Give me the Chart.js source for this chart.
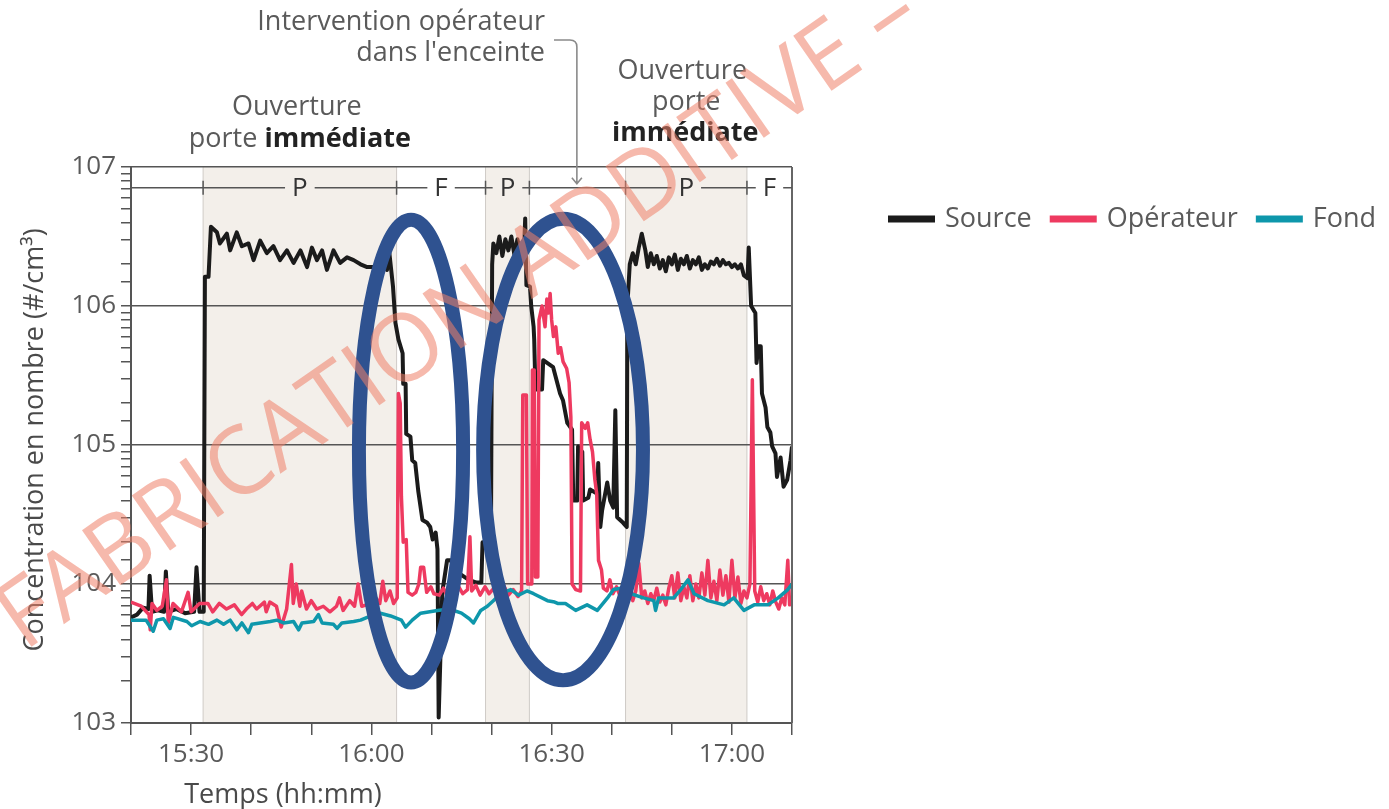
<!DOCTYPE html>
<html>
<head>
<meta charset="utf-8">
<script src="https://cdn.jsdelivr.net/npm/chart.js@4.4.0/dist/chart.umd.min.js"></script>
<style>
  html, body { margin: 0; padding: 0; background: #fff; }
</style>
</head>
<body>
<canvas id="concChart" width="1389" height="809"></canvas>
<script>
// x values are minutes after 15:20, y values are log10 of the concentration (#/cm3)
const startMinute = 15 * 60 + 20
const labelledTimes = ["15:30", "16:00", "16:30", "17:00"]
const decadeLabels = ["103", "104", "105", "106", "107"]

const sourceTimes = [0, 1, 2, 2.9, 3.1, 3.5, 4.5, 5.5, 5.8, 6.2, 7.5, 9, 10.5, 10.9, 11.4, 12.1,
  12.3, 12.9, 13.3, 14.3, 14.8, 15.95, 16.5, 17.6, 18.45, 19.55, 20.4, 21.5, 22.6, 23.7, 24.8, 25.95,
  27.05, 28.2, 29.3, 30.1, 30.95, 31.8, 32.6, 33.7, 34.8, 35.95, 37.05, 38.2, 39.3, 40.4, 41.2, 42.05,
  42.6, 43.0, 43.6, 44.0, 44.5, 45.2, 45.3, 45.7, 45.8, 46.5, 46.8, 47.3, 47.8, 48.5, 49.3, 49.8,
  50.2, 50.7, 51.0, 51.2, 51.8, 52.6, 53.2, 54.5, 56.2, 57.5, 58.3, 58.5, 59.9,
  60.1, 60.3, 60.8, 61.3, 61.8, 62.3, 62.8, 63.3, 63.8, 64.3, 64.8, 65.4, 65.6, 65.8,
  66.4, 66.6, 67.0, 67.1, 67.3, 68.4, 68.6, 70.25, 71.4, 71.9, 72.6, 73.4, 73.6, 74.25, 74.4, 75.1,
  75.25, 76.1, 76.4, 77.6, 77.75, 78.1, 78.4, 79.25, 79.75, 80.25, 80.6, 80.9, 81.9, 82.5,
  82.6, 83.0, 83.5, 84.0, 84.5, 85.0, 85.6, 86.0, 86.5, 87.0, 87.5, 88.0, 88.5, 89.0, 89.5, 90.0,
  90.5, 91.0, 91.5, 92.0, 92.5, 93.0, 93.5, 94.0, 94.5, 95.0, 95.5, 96.0, 96.5, 97.0, 97.5, 98.0,
  98.5, 99.0, 99.5, 100.0, 100.5, 101.0, 101.5, 102.0, 102.6, 102.8, 103.2, 103.9, 104.1, 104.4,
  104.8, 105.0, 105.6, 105.9, 106.4, 106.7, 107.25, 107.5, 108.1, 108.6, 109.2, 109.75, 110]
const sourceExp = [3.76, 3.78, 3.83, 3.82, 4.06, 3.80, 3.81, 3.80, 4.09, 3.80, 3.82, 3.79, 3.80, 4.12, 3.80, 3.80,
  6.21, 6.21, 6.57, 6.53, 6.45, 6.52, 6.40, 6.53, 6.43, 6.45, 6.33, 6.47, 6.38, 6.43, 6.33, 6.40,
  6.31, 6.40, 6.28, 6.42, 6.33, 6.40, 6.26, 6.40, 6.31, 6.35, 6.33, 6.30, 6.28, 6.28, 6.30, 6.31,
  6.26, 6.38, 6.14, 5.88, 5.76, 5.66, 5.44, 5.44, 5.08, 5.06, 4.89, 4.87, 4.67, 4.46, 4.44, 4.41,
  4.32, 4.37, 4.25, 3.04, 3.94, 4.17, 4.17, 4.08, 4.03, 4.01, 4.01, 4.30, 4.30,
  6.30, 6.45, 6.38, 6.50, 6.36, 6.48, 6.40, 6.50, 6.37, 6.48, 6.38, 6.40, 6.63, 6.15,
  6.14, 6.00, 5.85, 5.76, 5.40, 5.40, 5.61, 5.56, 5.37, 5.32, 5.16, 5.11, 4.60, 4.60, 4.99, 4.95,
  4.60, 4.62, 4.68, 4.65, 4.87, 4.41, 4.53, 4.73, 4.60, 4.55, 5.25, 4.48, 4.44, 4.41,
  6.00, 6.30, 6.38, 6.30, 6.42, 6.52, 6.40, 6.28, 6.38, 6.30, 6.36, 6.27, 6.33, 6.25, 6.35, 6.30,
  6.37, 6.26, 6.34, 6.30, 6.36, 6.27, 6.33, 6.30, 6.35, 6.26, 6.30, 6.27, 6.32, 6.30, 6.34, 6.29,
  6.33, 6.30, 6.31, 6.28, 6.30, 6.27, 6.30, 6.22, 6.20, 6.42, 6.00, 5.95, 5.59, 5.71,
  5.71, 5.37, 5.27, 5.13, 5.09, 4.99, 4.94, 4.77, 4.91, 4.70, 4.75, 4.89, 4.99]

const operatorTimes = [0, 1.7, 3.0, 3.2, 3.5, 4.3, 5.2, 5.9, 6.2, 7.0, 8.4, 9.5, 10.0, 11.4, 12.8, 13.6,
  14.7, 15.9, 17.2, 18.4, 19.2, 20.2, 20.9, 22.2, 22.5, 23.1, 24.2, 25.0, 25.9, 26.7, 27.0, 27.5,
  28.1, 28.4, 29.2, 30.0, 30.9, 32.0, 33.1, 34.2, 34.7, 35.3, 36.4, 37.2, 37.8, 38.4, 39.2, 40.4,
  41.4, 41.9, 42.4, 43.1, 43.7, 44.3, 44.5, 44.8, 45.0, 45.3, 45.8, 46.1, 46.8, 47.4, 47.9, 48.2,
  48.7, 49.2, 49.9, 50.4, 51.3, 52.0, 52.8, 53.6, 54.4, 55.2, 56.0, 56.4, 56.7, 57.4, 58.1, 58.9,
  59.6, 60.4, 61.2, 62.0, 62.8, 63.6, 64.4, 65.0, 65.2, 65.8, 66.0, 66.7, 66.8, 67.1, 67.3, 67.7,
  67.9, 68.4, 68.9, 69.2, 69.5, 69.75, 70.0, 70.3, 70.7, 71.1, 71.5, 71.9, 72.5, 72.9, 73.2, 73.4,
  74.0, 74.8, 75.0, 75.6, 76.0, 76.4, 76.8, 77.2, 77.5, 77.8, 78.3, 78.6, 79.2, 79.7, 80.2, 80.8,
  81.5, 82.1, 82.5, 83.0, 83.5, 84.0, 84.5, 85.0, 85.5, 86.0, 86.5, 87.0, 87.5, 88.0, 88.5, 89.0,
  89.5, 90.0, 90.5, 91.0, 91.5, 92.0, 92.5, 93.0, 93.5, 94.0, 94.5, 95.0, 95.5, 96.0, 96.5, 97.0,
  97.5, 98.0, 98.5, 99.0, 99.5, 100.0, 100.5, 101.0, 101.5, 102.0, 102.5, 103.0, 103.4, 103.8, 104.3,
  104.8, 105.3, 105.8, 106.3, 106.8, 107.3, 107.8, 108.3, 108.8, 109.3, 109.6, 110]
const operatorExp = [3.87, 3.84, 3.78, 3.67, 3.86, 3.81, 3.84, 4.03, 3.72, 3.86, 3.80, 3.94, 3.80, 3.86, 3.86, 3.80,
  3.86, 3.82, 3.85, 3.78, 3.82, 3.86, 3.82, 3.87, 3.80, 3.87, 3.84, 3.69, 3.82, 4.14, 3.86, 4.00,
  3.84, 3.95, 3.82, 3.88, 3.82, 3.84, 3.80, 3.84, 3.90, 3.81, 3.88, 3.84, 4.00, 3.84, 3.85, 3.92,
  3.86, 4.02, 3.88, 3.95, 3.86, 3.90, 5.37, 5.30, 4.63, 4.30, 4.32, 3.94, 3.92, 3.94, 4.00, 4.12,
  4.12, 3.94, 3.98, 3.93, 3.92, 3.97, 3.90, 3.95, 3.99, 3.93, 3.96, 4.34, 3.95, 3.99, 3.92, 3.98,
  3.93, 3.97, 3.90, 3.99, 3.92, 3.96, 3.91, 3.95, 5.36, 5.36, 4.00, 4.00, 5.54, 5.54, 4.05, 4.05,
  5.90, 6.00, 5.85, 6.05, 5.95, 6.09, 5.90, 5.78, 5.85, 5.66, 5.70, 5.60, 5.55, 5.45, 5.20, 4.00,
  3.96, 3.95, 5.16, 5.12, 5.16, 5.04, 4.95, 4.75, 4.65, 4.17, 4.10, 3.97, 3.95, 4.03, 3.93, 3.98,
  3.90, 3.96, 3.92, 4.02, 3.88, 3.95, 4.15, 3.90, 3.95, 3.86, 3.93, 3.88, 3.97, 3.87, 3.92, 3.85,
  3.97, 4.06, 3.90, 4.08, 3.88, 3.98, 3.90, 4.06, 3.88, 4.00, 3.90, 4.08, 3.92, 4.17, 3.90, 4.02,
  3.88, 4.10, 3.92, 4.06, 3.87, 4.17, 3.90, 4.05, 3.86, 3.95, 3.90, 4.00, 5.47, 3.95, 3.87,
  3.98, 3.88, 3.93, 3.85, 3.95, 3.87, 3.82, 3.90, 3.85, 4.17, 3.85, 3.88]

const fondTimes = [0, 2.5, 3.7, 4.3, 5.4, 6.5, 7.05, 9.3, 10.1, 11.5, 12.9, 14.3, 15.4, 16.5, 17.6, 18.45,
  19.55, 20.1, 21.5, 23.2, 24.3, 25.4, 27.05, 27.9, 28.45, 30.4, 31.2, 31.8, 33.7, 34.3, 35.1, 37.05,
  38.2, 39.3, 41.5, 43.2, 45.0, 45.7, 46.8, 48.2, 51.0, 53.0, 55.0, 56.3, 57.0, 58.2, 59.3, 60.3,
  61.5, 63.2, 64.5, 65.9, 67.0, 69.3, 70.5, 71.0, 72.3, 74.0, 75.9, 77.6, 79.3, 80.3, 81.5, 83.2,
  85.3, 87.0, 87.3, 87.8, 90.3, 91.5, 92.7, 93.7, 96.0, 98.7, 100.3, 102.0, 103.7, 106.0, 107.7,
  109.3, 110]
const fondExp = [3.74, 3.74, 3.66, 3.74, 3.75, 3.68, 3.76, 3.73, 3.70, 3.73, 3.71, 3.74, 3.71, 3.74, 3.67, 3.72,
  3.65, 3.71, 3.72, 3.73, 3.74, 3.72, 3.73, 3.67, 3.72, 3.73, 3.78, 3.72, 3.71, 3.68, 3.72, 3.73,
  3.74, 3.76, 3.79, 3.77, 3.74, 3.69, 3.74, 3.79, 3.81, 3.82, 3.79, 3.75, 3.72, 3.81, 3.84, 3.88,
  3.93, 3.96, 3.92, 3.95, 3.93, 3.88, 3.87, 3.86, 3.86, 3.81, 3.85, 3.81, 3.90, 3.96, 3.97, 3.93,
  3.90, 3.88, 3.81, 3.90, 3.90, 3.96, 4.03, 3.93, 3.88, 3.85, 3.90, 3.81, 3.85, 3.85, 3.90,
  3.96, 4.00]

// door phases along the top bar
const phaseNames = ["", "P", "F", "P", "", "P", "F"]
const phaseStarts = [0, 12.0, 44.2, 59.0, 66.3, 82.3, 102.5]
const phaseEnds = [12.0, 44.2, 59.0, 66.3, 82.3, 102.5, 110]
const phaseBarExp = 6.85

// hand-drawn circles of the original figure (centre time, centre exponent, half widths)
const circleTimes = [46.6, 71.9]
const circleExps = [4.956, 4.967]
const circleHalfTimes = [8.67, 13.3]
const circleHalfExps = [1.665, 1.66]

const arrowTime = 74.2

const seriesNames = ["Source", "Opérateur", "Fond"]
const seriesColors = ["#1b1b1b", "#ee3a60", "#0e97ab"]

const FONT = "'Open Sans', 'Noto Sans', sans-serif"
const TEXT = "#5a5a5a"

function toPoints(times, exps) {
  return times.map((t, i) => ({ x: t, y: Math.pow(10, exps[i]) }))
}

function isDecade(v) {
  const e = Math.log10(v)
  return Math.abs(e - Math.round(e)) < 1e-9
}

const overlay = {
  id: "overlay",
  beforeDraw(chart) {
    const { ctx, chartArea: area, scales: { x } } = chart
    ctx.save()
    ctx.fillStyle = "#fff"
    ctx.fillRect(0, 0, chart.width, chart.height)
    phaseNames.forEach((name, i) => {
      if (name !== "P") return
      const x0 = x.getPixelForValue(phaseStarts[i])
      const x1 = x.getPixelForValue(phaseEnds[i])
      ctx.fillStyle = "#f3efea"
      ctx.fillRect(x0, area.top, x1 - x0, area.bottom - area.top)
      ctx.strokeStyle = "#cfcbc7"
      ctx.lineWidth = 1
      ctx.beginPath()
      ctx.moveTo(x0, area.top); ctx.lineTo(x0, area.bottom)
      ctx.moveTo(x1, area.top); ctx.lineTo(x1, area.bottom)
      ctx.stroke()
    })
    ctx.restore()
  },
  afterDraw(chart) {
    const { ctx, chartArea: area, scales: { x, y } } = chart
    ctx.save()

    // right border
    ctx.strokeStyle = "#666"
    ctx.lineWidth = 2
    ctx.beginPath()
    ctx.moveTo(area.right, area.top); ctx.lineTo(area.right, area.bottom)
    ctx.stroke()

    // phase bar
    const barY = y.getPixelForValue(Math.pow(10, phaseBarExp))
    ctx.font = "26px " + FONT
    ctx.textAlign = "center"
    ctx.textBaseline = "middle"
    const gaps = []
    phaseNames.forEach((name, i) => {
      if (!name) return
      const cx = x.getPixelForValue((phaseStarts[i] + phaseEnds[i]) / 2)
      const w = ctx.measureText(name).width
      gaps.push([cx - w / 2 - 7, cx + w / 2 + 7])
      ctx.fillStyle = "#333"
      ctx.fillText(name, cx, barY + 1)
    })
    ctx.strokeStyle = "#555"
    ctx.lineWidth = 1.5
    ctx.beginPath()
    let from = area.left
    gaps.forEach(([g0, g1]) => {
      ctx.moveTo(from, barY); ctx.lineTo(g0, barY)
      from = g1
    })
    ctx.moveTo(from, barY); ctx.lineTo(area.right, barY)
    phaseStarts.slice(1).forEach((t) => {
      const px = x.getPixelForValue(t)
      ctx.moveTo(px, barY - 7); ctx.lineTo(px, barY + 7)
    })
    ctx.stroke()

    // circles
    ctx.strokeStyle = "#2f5290"
    ctx.lineWidth = 14
    circleTimes.forEach((t, i) => {
      const cx = x.getPixelForValue(t)
      const cy = y.getPixelForValue(Math.pow(10, circleExps[i]))
      const rx = x.getPixelForValue(t + circleHalfTimes[i]) - cx
      const ry = cy - y.getPixelForValue(Math.pow(10, circleExps[i] + circleHalfExps[i]))
      ctx.beginPath()
      ctx.ellipse(cx, cy, rx, ry, 0, 0, Math.PI * 2)
      ctx.stroke()
    })

    // annotations above the plot
    ctx.fillStyle = TEXT
    ctx.font = "27px " + FONT
    ctx.textAlign = "right"
    ctx.textBaseline = "middle"
    ctx.fillText("Intervention opérateur", 545, 22)
    ctx.fillText("dans l'enceinte", 545, 53)

    const ax = x.getPixelForValue(arrowTime)
    ctx.strokeStyle = "#8a8a8a"
    ctx.lineWidth = 1.6
    ctx.beginPath()
    ctx.moveTo(554, 40)
    ctx.lineTo(ax - 7, 40)
    ctx.quadraticCurveTo(ax, 40, ax, 47)
    ctx.lineTo(ax, barY - 4)
    ctx.moveTo(ax - 5, barY - 10); ctx.lineTo(ax, barY - 4); ctx.lineTo(ax + 5, barY - 10)
    ctx.stroke()

    const leftCx = x.getPixelForValue((phaseStarts[1] + phaseEnds[1]) / 2)
    ctx.textAlign = "center"
    ctx.fillText("Ouverture", leftCx - 3, 107)
    const reg = "porte "
    const bold = "immédiate"
    ctx.font = "27px " + FONT
    const wReg = ctx.measureText(reg).width
    ctx.font = "bold 27px " + FONT
    const wBold = ctx.measureText(bold).width
    let sx = leftCx - (wReg + wBold) / 2
    ctx.textAlign = "left"
    ctx.font = "27px " + FONT
    ctx.fillStyle = TEXT
    ctx.fillText(reg, sx, 139)
    ctx.font = "bold 27px " + FONT
    ctx.fillStyle = "#222"
    ctx.fillText(bold, sx + wReg, 139)

    const rightCx = x.getPixelForValue((phaseStarts[5] + phaseEnds[5]) / 2)
    ctx.textAlign = "center"
    ctx.font = "27px " + FONT
    ctx.fillStyle = TEXT
    ctx.fillText("Ouverture", rightCx - 4, 71)
    ctx.fillText("porte", rightCx, 102)
    ctx.font = "bold 27px " + FONT
    ctx.fillStyle = "#222"
    ctx.fillText("immédiate", rightCx - 1, 133)

    // axis titles
    ctx.font = "27px " + FONT
    ctx.fillStyle = "#4a4a4a"
    ctx.textAlign = "center"
    ctx.fillText("Temps (hh:mm)", 283, 795)
    ctx.save()
    ctx.translate(35, 440)
    ctx.rotate(-Math.PI / 2)
    ctx.fillText("Concentration en nombre (#/cm³)", 0, 0)
    ctx.restore()

    // legend
    let lx = 888
    const ly = 219
    ctx.textAlign = "left"
    seriesNames.forEach((name, i) => {
      ctx.fillStyle = seriesColors[i]
      ctx.fillRect(lx, ly - 3.5, 47, 7)
      lx += 57
      ctx.fillStyle = TEXT
      ctx.fillText(name, lx, ly)
      lx += ctx.measureText(name).width + 18
    })

    // watermark
    ctx.translate(24, 652)
    ctx.rotate(-34.8 * Math.PI / 180)
    ctx.font = "94px " + FONT
    ctx.fillStyle = "rgba(238, 128, 104, 0.55)"
    ctx.textAlign = "left"
    ctx.textBaseline = "alphabetic"
    const pre = "S "
    ctx.fillText(pre + "FABRICATION ADDITIVE – ", -ctx.measureText(pre).width, 0)

    ctx.restore()
  }
}

Chart.defaults.font.family = FONT

const chartCtx = document.getElementById("concChart").getContext("2d")
new Chart(chartCtx, {
  type: "line",
  data: {
    datasets: [
      { label: seriesNames[0], data: toPoints(sourceTimes, sourceExp), borderColor: seriesColors[0], borderWidth: 4, order: 2 },
      { label: seriesNames[1], data: toPoints(operatorTimes, operatorExp), borderColor: seriesColors[1], borderWidth: 3.5, order: 1 },
      { label: seriesNames[2], data: toPoints(fondTimes, fondExp), borderColor: seriesColors[2], borderWidth: 3.5, order: 0 },
    ],
  },
  options: {
    responsive: false,
    animation: false,
    devicePixelRatio: 1,
    elements: {
      point: { radius: 0, hoverRadius: 0 },
      line: { tension: 0, borderJoinStyle: "round", fill: false },
    },
    layout: { padding: { top: 167, right: 597, bottom: 0, left: 0 } },
    plugins: {
      legend: { display: false },
      tooltip: { enabled: false },
    },
    scales: {
      x: {
        type: "linear",
        min: 0,
        max: 110,
        afterFit: (scale) => { scale.height = 86 },
        ticks: {
          stepSize: 10,
          autoSkip: false,
          maxRotation: 0,
          padding: 4,
          color: TEXT,
          font: { size: 26 },
          callback: (value) => {
            const m = startMinute + value
            const label = Math.floor(m / 60) + ":" + String(m % 60).padStart(2, "0")
            return labelledTimes.includes(label) ? label : ""
          },
        },
        grid: { drawOnChartArea: false, tickLength: 12, color: "#555", lineWidth: 1.5 },
        border: { color: "#555", width: 2 },
      },
      y: {
        type: "logarithmic",
        min: 1000,
        max: 10000000,
        afterFit: (scale) => { scale.width = 131 },
        ticks: {
          autoSkip: false,
          padding: 5,
          color: TEXT,
          font: { size: 26 },
          callback: (value) => {
            if (!isDecade(value)) return ""
            return decadeLabels.find((l) => l === "10" + Math.round(Math.log10(value))) || ""
          },
        },
        grid: {
          color: (c) => (c.tick && isDecade(c.tick.value) ? "#555" : "rgba(0,0,0,0)"),
          tickColor: "#555",
          tickLength: 10,
          lineWidth: 1.5,
        },
        border: { color: "#555", width: 2 },
      },
    },
  },
  plugins: [overlay],
})
</script>
</body>
</html>
